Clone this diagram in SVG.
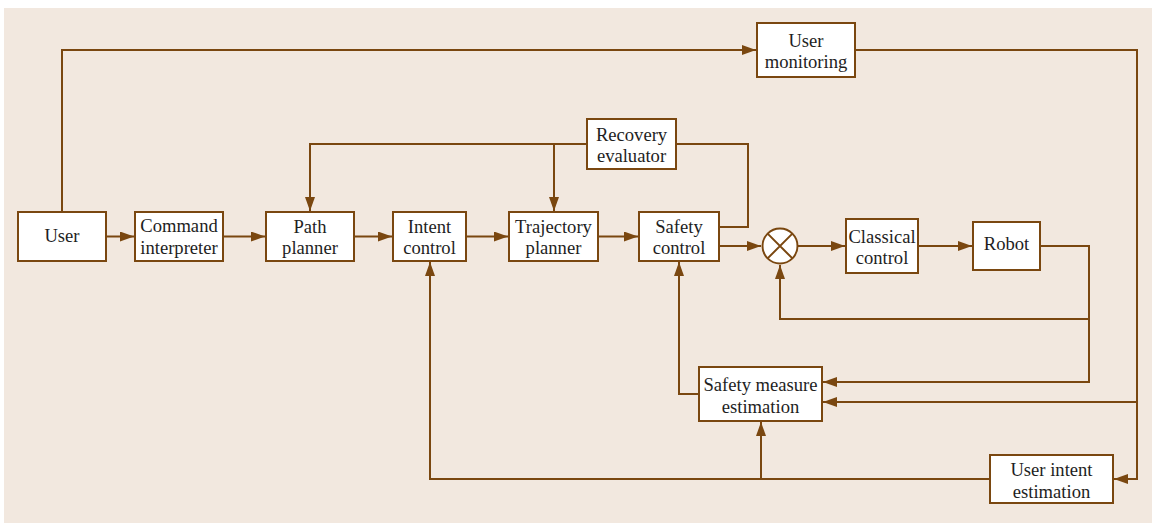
<svg xmlns="http://www.w3.org/2000/svg" width="1152" height="525" viewBox="0 0 1152 525">
<style>
.box{fill:#ffffff;stroke:#7a4710;stroke-width:2}
.ln{fill:none;stroke:#7a4710;stroke-width:2}
text{font-family:"Liberation Serif","Times New Roman",serif;font-size:18.6px;fill:#1e1e1e;text-anchor:middle}
</style>
<defs>
<marker id="ah" markerUnits="userSpaceOnUse" markerWidth="15" markerHeight="11" refX="14" refY="5" orient="auto">
<path d="M0,0 L14,5 L0,10 z" fill="#7a4710"/>
</marker>
</defs>
<rect x="4" y="8" width="1148" height="515" fill="#f2e8df"/>
<g id="connectors">
<path class="ln" d="M106,236.5 H134" marker-end="url(#ah)"/>
<path class="ln" d="M223,236.5 H265" marker-end="url(#ah)"/>
<path class="ln" d="M354,236.5 H392" marker-end="url(#ah)"/>
<path class="ln" d="M466,236.5 H508" marker-end="url(#ah)"/>
<path class="ln" d="M598,236.5 H638" marker-end="url(#ah)"/>
<path class="ln" d="M719,246 H761" marker-end="url(#ah)"/>
<path class="ln" d="M798,246 H845" marker-end="url(#ah)"/>
<path class="ln" d="M918,246 H972" marker-end="url(#ah)"/>
<path class="ln" d="M1040,246 H1089 V382 H823" marker-end="url(#ah)"/>
<path class="ln" d="M1089,319 H780 V265" marker-end="url(#ah)"/>
<path class="ln" d="M62,212 V50 H756" marker-end="url(#ah)"/>
<path class="ln" d="M855,50 H1137 V479 H1114" marker-end="url(#ah)"/>
<path class="ln" d="M1137,402 H823" marker-end="url(#ah)"/>
<path class="ln" d="M587,144 H310 V211" marker-end="url(#ah)"/>
<path class="ln" d="M554,144 V211" marker-end="url(#ah)"/>
<path class="ln" d="M676,144 H748 V227 H719"/>
<path class="ln" d="M699,394 H679 V262" marker-end="url(#ah)"/>
<path class="ln" d="M990,479 H430 V262" marker-end="url(#ah)"/>
<path class="ln" d="M761,479 V422" marker-end="url(#ah)"/>
</g>
<g id="user"><rect class="box" x="18" y="212" width="88" height="49"/><text x="62" y="242">User</text></g>
<g id="command-interpreter"><rect class="box" x="135" y="212" width="88" height="49"/><text x="179" y="232">Command</text><text x="179" y="254">interpreter</text></g>
<g id="path-planner"><rect class="box" x="266" y="212" width="88" height="49"/><text x="310" y="233">Path</text><text x="310" y="254">planner</text></g>
<g id="intent-control"><rect class="box" x="393" y="212" width="73" height="49"/><text x="429.5" y="233">Intent</text><text x="429.5" y="254">control</text></g>
<g id="trajectory-planner"><rect class="box" x="509" y="212" width="89" height="49"/><text x="553.5" y="233">Trajectory</text><text x="553.5" y="254">planner</text></g>
<g id="safety-control"><rect class="box" x="639" y="212" width="80" height="49"/><text x="679" y="233">Safety</text><text x="679" y="254">control</text></g>
<g id="recovery-evaluator"><rect class="box" x="587" y="119" width="89" height="50"/><text x="631.5" y="141">Recovery</text><text x="631.5" y="162">evaluator</text></g>
<g id="user-monitoring"><rect class="box" x="757" y="23" width="98" height="54"/><text x="806" y="47">User</text><text x="806" y="68">monitoring</text></g>
<g id="summing-junction"><circle class="box" cx="780" cy="246" r="17.5"/><path class="ln" d="M767.6,233.6 L792.4,258.4 M792.4,233.6 L767.6,258.4"/></g>
<g id="classical-control"><rect class="box" x="846" y="219" width="72" height="54"/><text x="882" y="243">Classical</text><text x="882" y="264">control</text></g>
<g id="robot"><rect class="box" x="973" y="222" width="67" height="48"/><text x="1006.5" y="250">Robot</text></g>
<g id="safety-measure-estimation"><rect class="box" x="699" y="367" width="123" height="54"/><text x="760.5" y="391">Safety measure</text><text x="760.5" y="413">estimation</text></g>
<g id="user-intent-estimation"><rect class="box" x="990" y="455" width="123" height="48"/><text x="1051.5" y="476">User intent</text><text x="1051.5" y="498">estimation</text></g>
</svg>
